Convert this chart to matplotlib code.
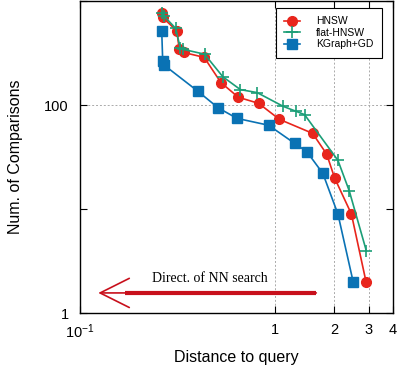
import numpy as np
import matplotlib.pyplot as plt
from matplotlib.ticker import FixedLocator, FixedFormatter, NullLocator, NullFormatter

# values
hnsw_x = [0.262, 0.265, 0.313, 0.322, 0.339, 0.432, 0.526, 0.646, 0.821, 1.048, 1.55, 1.83, 2.01, 2.45, 2.91]
hnsw_y = [762, 697, 518, 345, 321, 288, 165, 119, 104, 73, 53.5, 33.8, 19.9, 8.95, 2.0]

flat_x = [0.262, 0.268, 0.309, 0.326, 0.335, 0.434, 0.539, 0.662, 0.806, 1.10, 1.28, 1.41, 2.09, 2.39, 2.92]
flat_y = [762, 725, 547, 353, 345, 309, 187, 141, 132, 97, 87, 81, 29.4, 14.9, 3.97]

kg_x = [0.262, 0.265, 0.270, 0.401, 0.510, 0.637, 0.924, 1.256, 1.45, 1.75, 2.09, 2.50]
kg_y = [518, 267, 242, 136, 94, 74.5, 64, 42.8, 35.6, 22, 8.95, 2.0]

x_ticks = [0.1, 1, 2, 3, 4]
x_labels = ['10$^{-1}$', '1', '2', '3', '4']
y_ticks = [1, 100]
y_labels = ['1', '100']
y_minor = [10, 1000]

plt.rcParams['font.family'] = ['Liberation Sans', 'DejaVu Sans']
plt.rcParams['mathtext.fontset'] = 'custom'
plt.rcParams['mathtext.rm'] = 'Liberation Sans'
plt.rcParams['mathtext.default'] = 'regular'

fig = plt.figure(figsize=(3.99, 3.66), dpi=100)
ax = fig.add_axes([0.2005, 0.1448, 0.7845, 0.852])

ax.plot(hnsw_x, hnsw_y, color='#e8251c', marker='o', markersize=7, lw=1.2, label='HNSW')
ax.plot(flat_x, flat_y, color='#1b9e77', marker='+', markersize=8, mew=1.2, lw=1.2, label='flat-HNSW')
ax.plot(kg_x, kg_y, color='#0a72b4', marker='s', markersize=6.5, lw=1.2, label='KGraph+GD')

ax.set_xscale('log')
ax.set_yscale('log')
ax.set_xlim(0.1, 4)
ax.set_ylim(1, 1000)

ax.xaxis.set_major_locator(FixedLocator(x_ticks))
ax.xaxis.set_major_formatter(FixedFormatter(x_labels))
ax.xaxis.set_minor_locator(NullLocator())
ax.yaxis.set_major_locator(FixedLocator(y_ticks))
ax.yaxis.set_major_formatter(FixedFormatter(y_labels))
ax.yaxis.set_minor_locator(FixedLocator(y_minor))
ax.yaxis.set_minor_formatter(NullFormatter())
ax.tick_params(which='both', direction='in', top=True, right=True, labelsize=10.5, length=5, width=0.8)
ax.tick_params(axis='x', pad=7)
ax.tick_params(axis='y', pad=8)

for xv in [1, 2, 3]:
    ax.axvline(xv, color='#aaaaaa', ls=(0, (2, 2)), lw=0.7, zorder=0)
ax.axhline(100, color='#aaaaaa', ls=(0, (2, 2)), lw=0.7, zorder=0)

for s in ax.spines.values():
    s.set_linewidth(1.0)

ax.set_xlabel('Distance to query', fontsize=11.5, labelpad=6)
ax.set_ylabel('Num. of Comparisons', fontsize=11.5, labelpad=15)

# direction arrow
arrow_c = '#c8101c'
ax.annotate('', xy=(0.124, 1.56), xytext=(1.62, 1.56),
            arrowprops=dict(arrowstyle='->, head_length=21, head_width=10.5',
                            mutation_scale=1, color=arrow_c, lw=1.2, shrinkA=0, shrinkB=0))
ax.plot([0.170, 1.62], [1.56, 1.56], color=arrow_c, lw=3, solid_capstyle='butt')
ax.text(0.464, 2.17, 'Direct. of NN search', fontsize=10, family='Liberation Serif',
        ha='center', va='center')

leg = ax.legend(loc='upper right', fontsize=7.5, frameon=True, fancybox=False,
                edgecolor='black', framealpha=1, borderpad=0.8, handlelength=1.5,
                handletextpad=1.6, labelspacing=0.15, borderaxespad=0,
                bbox_to_anchor=(0.965, 0.978))
leg.get_frame().set_linewidth(0.8)

fig.savefig('out.png', dpi=100)
